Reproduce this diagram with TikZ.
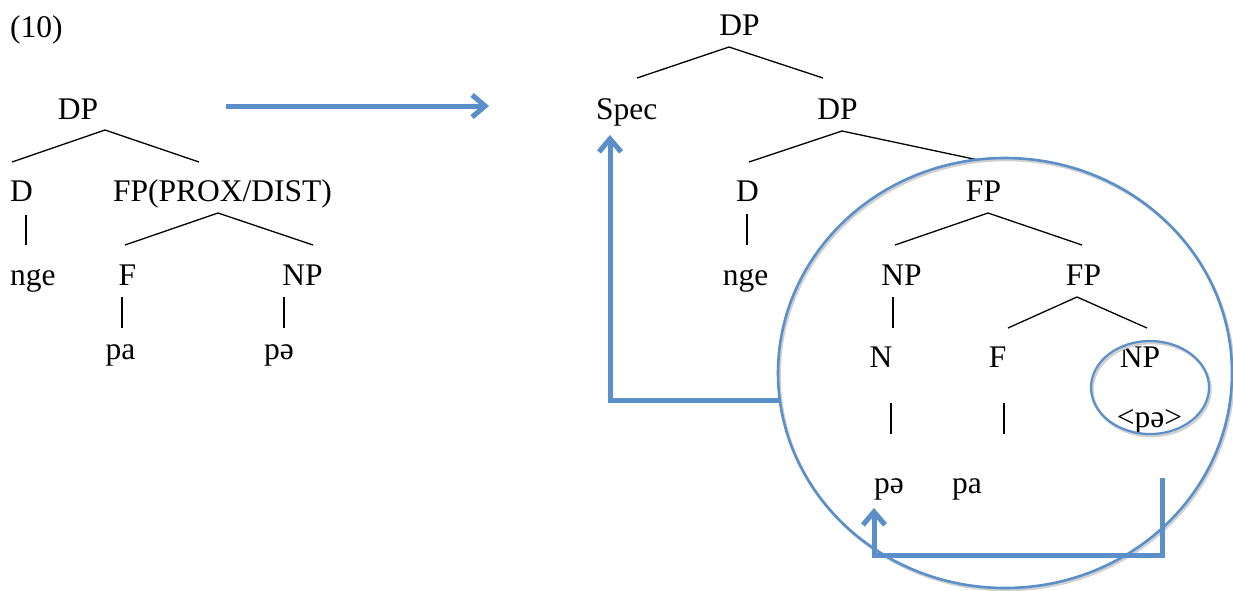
\documentclass[tikz,border=0pt]{standalone}
\usepackage{fontspec}
\setmainfont{Liberation Serif}
\newfontfamily\tnr{Liberation Serif}
\usetikzlibrary{arrows.meta}
\definecolor{mvblue}{RGB}{91,143,201}
\definecolor{mvshadow}{RGB}{208,208,208}
\begin{document}
\begin{tikzpicture}[x=1pt,y=-1pt,
  lab/.style={inner sep=0pt,anchor=base,font=\tnr\fontsize{31.5}{36}\selectfont},
  labw/.style={lab,anchor=base west},
  br/.style={line width=1.3pt,black},
  mvtip/.style={-{Straight Barb[length=13pt,width=22pt]}},
  mv/.style={draw=mvblue,line width=5pt,mvtip},
  mvs/.style={draw=mvshadow,line width=5pt,mvtip,shift={(2,2.5)}},
  ring/.style={draw=mvblue,line width=2.6pt},
  rings/.style={draw=mvshadow,line width=2.6pt,shift={(1.5,2)}}
]
\useasboundingbox (0,0) rectangle (1233,590);

% ---------- left tree ----------
\node[labw] (ex) at (10,37) {(10)};
\node[lab] (lDP) at (78,119) {DP};
\node[labw] (lD) at (10,201) {D};
\node[labw] (lFP) at (113,201) {FP(PROX/DIST)};
\node[labw] (lnge) at (10,285) {nge};
\node[lab] (lF) at (127.5,285) {F};
\node[lab] (lNP) at (302.5,285) {NP};
\node[lab] (lpa) at (120.5,359) {pa};
\node[lab] (lpe) at (279,359) {pə};

\coordinate (a1) at (105,130);
\coordinate (a1l) at (12,162);
\coordinate (a1r) at (199,162);
\coordinate (a2) at (218,213);
\coordinate (a2l) at (125,245);
\coordinate (a2r) at (313,245);
\draw[br] (a1l) -- (a1) -- (a1r);
\draw[br] (a2l) -- (a2) -- (a2r);
\draw[br] (26,215) coordinate (dv1) -- (26,245) coordinate (dv2);
\draw[br] (122,297) coordinate (fv1) -- (122,328) coordinate (fv2);
\draw[br] (284,297) coordinate (nv1) -- (284,328) coordinate (nv2);

% ---------- right tree ----------
\node[lab] (rDP) at (739.5,35) {DP};
\node[labw] (rSpec) at (596,119) {Spec};
\node[lab] (rDP2) at (837.5,119) {DP};
\node[lab] (rD) at (747.5,201) {D};
\node[lab] (rFP) at (983.5,201) {FP};
\node[lab] (rnge) at (745.5,285) {nge};
\node[lab] (rNP) at (901.5,285) {NP};
\node[lab] (rFP2) at (1083.5,285) {FP};
\node[lab] (rN) at (881,367) {N};
\node[lab] (rF) at (997.5,367) {F};
\node[lab] (rNP2) at (1140,367) {NP};
\node[lab] (rtrace) at (1149.5,427) {<pə>};
\node[lab] (rpe) at (889,493) {pə};
\node[lab] (rpa) at (967,493) {pa};

\coordinate (b1) at (729,47);
\coordinate (b1l) at (637,78);
\coordinate (b1r) at (823,78);
\coordinate (b2) at (842,131);
\coordinate (b2l) at (749,162);
\coordinate (b2r) at (983,161);
\coordinate (b3) at (988,213);
\coordinate (b3l) at (895,245);
\coordinate (b3r) at (1082,245);
\coordinate (b4) at (1077,297);
\coordinate (b4l) at (1008,328);
\coordinate (b4r) at (1147,328);
\draw[br] (b1l) -- (b1) -- (b1r);
\draw[br] (b2l) -- (b2) -- (b2r);
\draw[br] (b3l) -- (b3) -- (b3r);
\draw[br] (b4l) -- (b4) -- (b4r);
\draw[br] (747,214) coordinate (rdv1) -- (747,245) coordinate (rdv2);
\draw[br] (893,297) coordinate (rnv1) -- (893,328) coordinate (rnv2);
\draw[br] (891,403) coordinate (rn1) -- (891,434) coordinate (rn2);
\draw[br] (1004,403) coordinate (rf1) -- (1004,434) coordinate (rf2);

% ---------- blue marks ----------
\draw[rings] (1005,373) ellipse [x radius=227pt, y radius=215pt];
\draw[ring] (1005,373) ellipse [x radius=227pt, y radius=215pt];
\draw[rings] (1150,387.5) ellipse [x radius=59pt, y radius=46.5pt];
\draw[ring,line width=2.2pt] (1150,387.5) ellipse [x radius=59pt, y radius=46.5pt];

\coordinate (t0) at (226,106);
\coordinate (t1) at (489,106);
\draw[mvs] (t0) -- (t1);
\draw[mv] (t0) -- (t1);

\coordinate (s0) at (779,400);
\coordinate (s1) at (610,400);
\coordinate (s2) at (610,135);
\draw[mvs] (s0) -- (s1) -- (s2);
\draw[mv] (s0) -- (s1) -- (s2);

\coordinate (m0) at (1162,478);
\coordinate (m1) at (1162,555);
\coordinate (m2) at (874,555);
\coordinate (m3) at (874,508);
\draw[mvs] (m0) -- (m1) -- (m2) -- (m3);
\draw[mv] (m0) -- (m1) -- (m2) -- (m3);
\end{tikzpicture}
\end{document}
